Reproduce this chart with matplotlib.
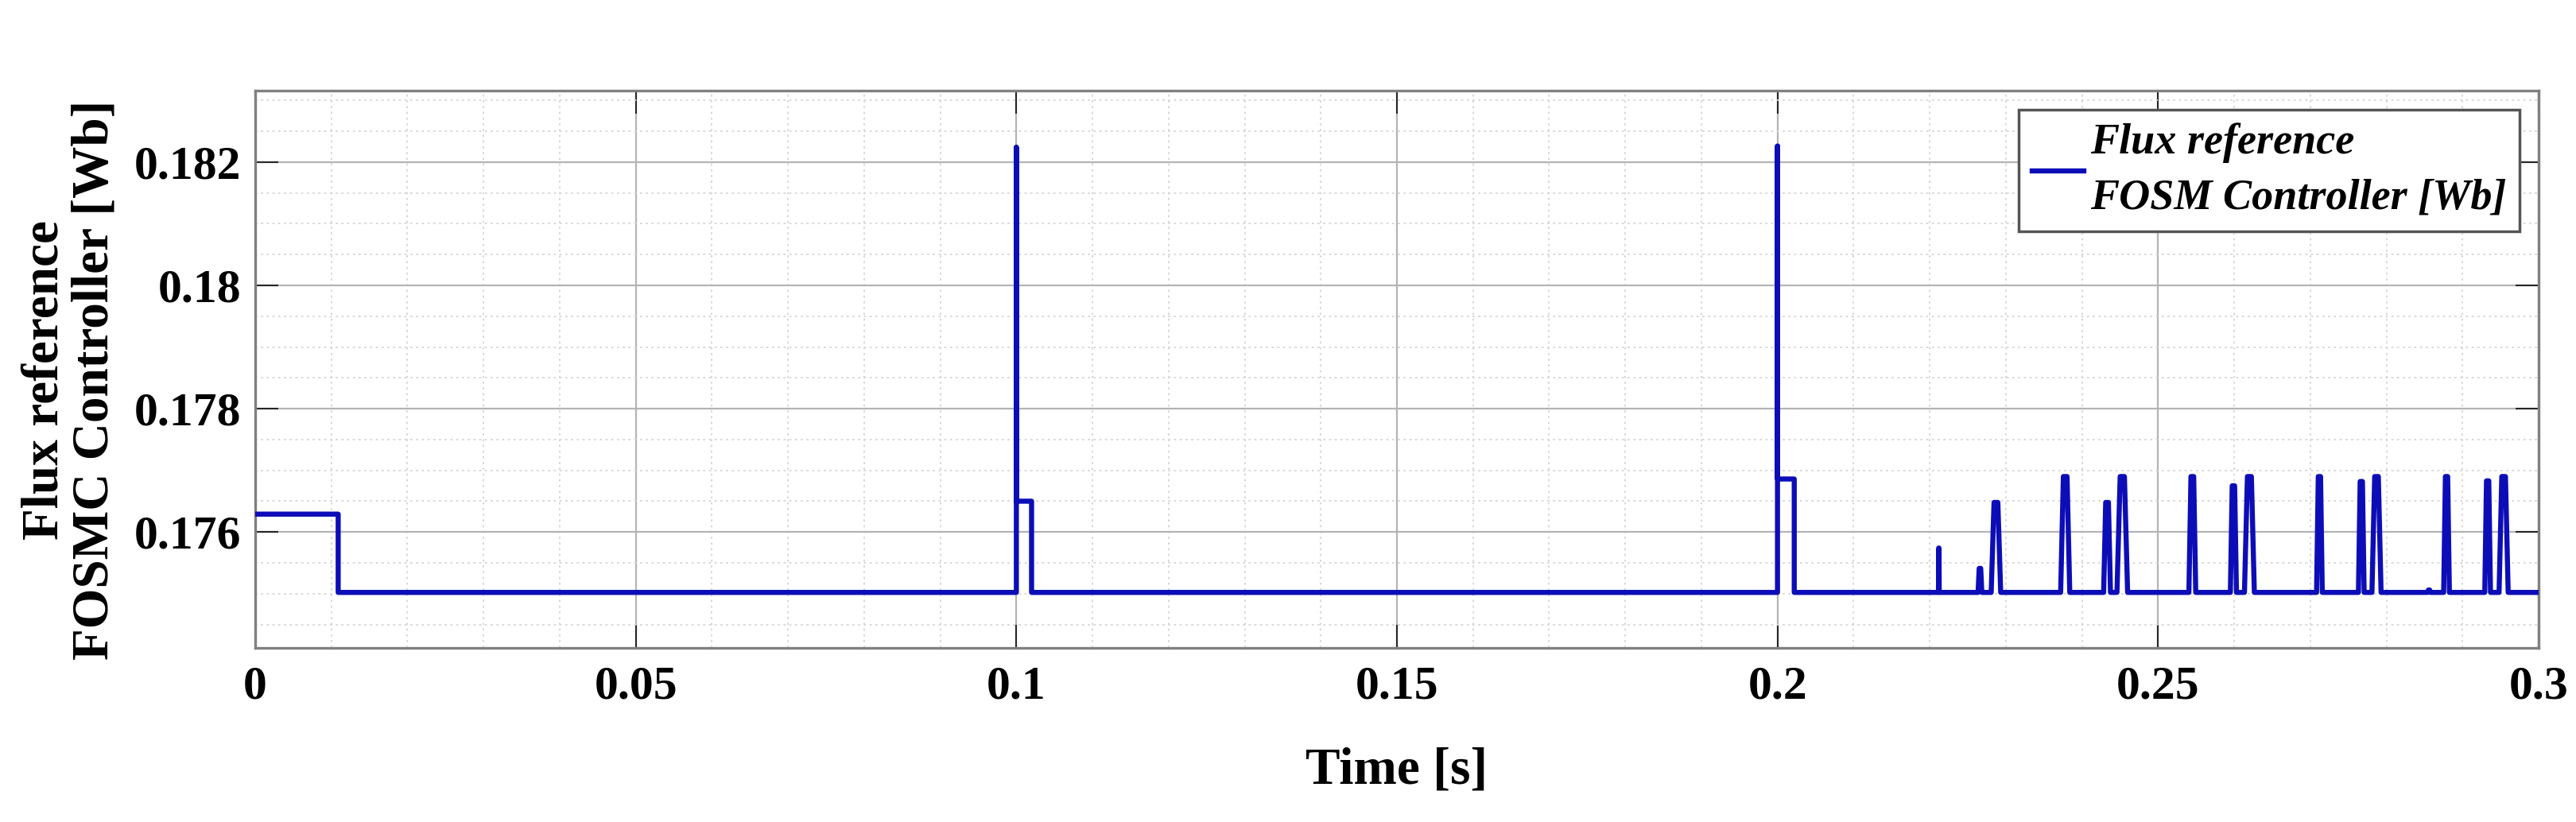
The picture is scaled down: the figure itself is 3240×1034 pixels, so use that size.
import matplotlib
matplotlib.use("Agg")
import matplotlib.pyplot as plt
from matplotlib.ticker import MultipleLocator, FixedLocator

# ---------------- data ----------------
initial_level = 0.17629
step_time = 0.0109
base_level = 0.17502
t_end = 0.3

event_time = [0.1000, 0.2000]
event_spike = [0.18224, 0.18226]
event_plateau = [0.17650, 0.17686]
event_stop = [0.1020, 0.2022]

pulse_center = [0.2212, 0.2266, 0.2287, 0.2378, 0.2433, 0.2453, 0.2545, 0.2599,
                0.2620, 0.2712, 0.2767, 0.2787, 0.2856, 0.2879, 0.2933, 0.2954]
pulse_peak = [0.17574, 0.17541, 0.17648, 0.17690, 0.17648, 0.17690, 0.17690, 0.17675,
              0.17690, 0.17690, 0.17682, 0.17690, 0.17506, 0.17690, 0.17683, 0.17690]
pulse_width = [0.0001, 0.0005, 0.00125, 0.0012, 0.0009, 0.0014, 0.0009, 0.0008,
               0.0013, 0.00075, 0.00075, 0.0012, 0.0004, 0.00075, 0.00075, 0.0012]

x_ticks = [0, 0.05, 0.1, 0.15, 0.2, 0.25, 0.3]
x_ticklabels = ["0", "0.05", "0.1", "0.15", "0.2", "0.25", "0.3"]
y_ticks = [0.176, 0.178, 0.180, 0.182]
y_ticklabels = ["0.176", "0.178", "0.18", "0.182"]
y_limits = (0.17412, 0.18316)

legend_label = "Flux reference\nFOSM Controller [Wb]"
y_label = "Flux reference\nFOSMC Controller [Wb]"
x_label = "Time [s]"

# ---------------- build the waveform vertices from the data ----------------
t = [0.0, step_time, step_time]
v = [initial_level, initial_level, base_level]
for te, sp, pl, st in zip(event_time, event_spike, event_plateau, event_stop):
    t += [te, te, te, st, st]
    v += [base_level, sp, pl, pl, base_level]
for c, p, w in zip(pulse_center, pulse_peak, pulse_width):
    t += [c - w / 2, c - w / 5, c + w / 5, c + w / 2]
    v += [base_level, p, p, base_level]
t += [t_end]
v += [base_level]

# ---------------- figure ----------------
plt.rcParams['font.family'] = ['Liberation Serif', 'DejaVu Serif']
plt.rcParams['font.weight'] = 'bold'

W, H = 3241, 1034
fig = plt.figure(figsize=(W / 100, H / 100), dpi=100)
fig.patch.set_facecolor('white')
ax = fig.add_axes([321 / W, 1 - 815 / H, (3193 - 321) / W, (815 - 114) / H])

ax.plot(t, v, color='#0d0db8', lw=4.6, solid_joinstyle='round',
        label=legend_label, zorder=3)

ax.set_xlim(0, t_end)
ax.set_ylim(*y_limits)
ax.xaxis.set_major_locator(FixedLocator(x_ticks))
ax.set_xticklabels(x_ticklabels)
ax.yaxis.set_major_locator(FixedLocator(y_ticks))
ax.set_yticklabels(y_ticklabels)
ax.xaxis.set_minor_locator(MultipleLocator(0.01))
ax.yaxis.set_minor_locator(MultipleLocator(0.0005))

ax.grid(which='major', color='#b4b4b4', lw=1.6, ls='-', zorder=1)
ax.grid(which='minor', color='#d6d6d6', lw=1.3, ls=(0, (1.5, 2.5)), zorder=0)
ax.set_axisbelow(True)

ax.tick_params(which='major', direction='in', length=21, width=1.5,
               color='#262626', top=True, right=True, labelsize=43)
ax.tick_params(axis='x', which='major', pad=16)
ax.tick_params(axis='y', which='major', pad=13)
ax.tick_params(which='minor', length=0)
for lab in ax.get_xticklabels() + ax.get_yticklabels():
    lab.set_fontweight('bold')

for s in ax.spines.values():
    s.set_color('#808080')
    s.set_linewidth(2.4)

ax.set_xlabel(x_label, fontsize=47, fontweight='bold', va='center')
ax.xaxis.set_label_coords(0.5, (815 - 970) / (815 - 114))
ax.set_ylabel(y_label, fontsize=47, fontweight='bold', va='center',
              multialignment='center', linespacing=1.05)
ax.yaxis.set_label_coords((88 - 321) / (3193 - 321), (815 - 478) / (815 - 114))

leg = ax.legend(loc='upper right', fancybox=False, framealpha=1,
                edgecolor='#555555', handlelength=1.2, handletextpad=0.15,
                borderpad=0.3, borderaxespad=0.45,
                prop={'family': 'Liberation Serif', 'style': 'italic',
                      'weight': 'bold', 'size': 39})
leg.get_frame().set_linewidth(2.5)
for txt in leg.get_texts():
    txt.set_linespacing(1.5)

fig.savefig('out.png', dpi=100, facecolor='white')
